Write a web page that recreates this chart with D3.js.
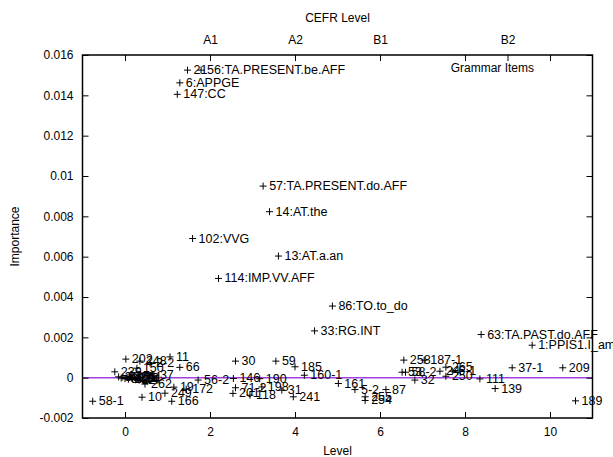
<!DOCTYPE html>
<html><head><meta charset="utf-8">
<script src="https://cdn.jsdelivr.net/npm/d3@7"></script>
<style>
body{margin:0;background:#fff}
svg{display:block}
text{font-family:"Liberation Sans",Arial,Helvetica,sans-serif;fill:#000}
</style>
</head><body>
<svg id="c" width="613" height="457"></svg>
<script>
// ---- data ----
const pointLabels = [
  "21","56:TA.PRESENT.be.AFF","6:APPGE","147:CC","57:TA.PRESENT.do.AFF","14:AT.the",
  "102:VVG","13:AT.a.an","114:IMP.VV.AFF","86:TO.to_do","33:RG.INT","63:TA.PAST.do.AFF",
  "1:PPIS1.I_am","37-1","209","111","139","189","258","187-1","53","58-2","24","265",
  "6-1","250","32","161","5-2","87","255","254","241","31","198","190","146","160-1",
  "185","30","59","71-2","201","118","56-2","172","19","249","166","10","58-1","262",
  "202","248","2-2","11","66","239","150","37",
  "3","4","7","8","9","12","15","17","20","22","25","28","34","41","44"
];
const pointLevels = [
  1.47,1.79,1.29,1.23,3.25,3.40,
  1.59,3.61,2.20,4.88,4.46,8.38,
  9.58,9.11,10.30,8.35,8.71,10.60,6.56,7.04,6.52,6.60,7.41,7.55,
  7.70,7.55,6.82,5.02,5.41,6.14,5.65,5.65,3.96,3.69,3.22,3.17,2.55,4.22,
  4.00,2.60,3.55,2.60,2.54,2.94,1.72,1.44,1.15,0.94,1.10,0.40,-0.76,0.47,
  0.02,0.35,0.59,1.06,1.29,-0.24,0.28,0.68,
  -0.15,-0.09,-0.05,0.00,0.05,0.08,0.12,0.18,0.22,0.25,0.30,0.10,0.36,0.40,0.33
];
const pointImportance = [
  0.01525,0.01525,0.01462,0.01405,0.0095,0.00823,
  0.0069,0.00603,0.00492,0.00355,0.00232,0.00214,
  0.00161,0.00049,0.00049,-0.00006,-0.00054,-0.00115,0.00087,0.00087,0.00027,0.00027,0.00032,0.00052,
  0.00032,0.00007,-0.00012,-0.00029,-0.00059,-0.00059,-0.00095,-0.00113,-0.00095,-0.00062,-0.00046,-0.00005,-0.00004,0.00012,
  0.00054,0.00082,0.00082,-0.00050,-0.00078,-0.00087,-0.00012,-0.00057,-0.00047,-0.00077,-0.00117,-0.00097,-0.00117,-0.00032,
  0.00092,0.00082,0.00072,0.00103,0.00051,0.00029,0.00047,0.00012,
  0.00004,-0.00002,0.00003,-0.00005,0.00001,-0.00008,0.00002,-0.00004,0.00001,-0.0001,-0.00003,0.00006,-0.00007,0.00002,-0.00012
];
const xTicks = [0,2,4,6,8,10];
const yTicks = [-0.002,0,0.002,0.004,0.006,0.008,0.01,0.012,0.014,0.016];
const cefrTicks = [2,4,6,9];
const cefrLabels = ["A1","A2","B1","B2"];
const legendLabel = "Grammar Items";

// ---- layout ----
const L=82.5, R=592.5, T=55, B=418;
const svg = d3.select("#c");
const x = d3.scaleLinear().domain([-1,11]).range([L,R]);
const y = d3.scaleLinear().domain([-0.002,0.016]).range([B,T]);
const fs = "12px";
const pfs = "12.5px";

// zero axis
svg.append("line").attr("x1",L).attr("x2",R).attr("y1",y(0)).attr("y2",y(0))
  .attr("stroke","#a040e0").attr("stroke-width",1.5);

function styleAxis(g){
  g.select(".domain").remove();
  g.selectAll(".tick line").attr("stroke","#000").attr("stroke-width",1);
  g.selectAll(".tick text").style("font-size",fs).attr("fill","#000");
}
const fmtY = v => v===0 ? "0" : String(+v.toFixed(3));

svg.append("g").attr("transform",`translate(0,${B})`)
  .call(d3.axisBottom(x).tickValues(xTicks).tickSizeInner(-6).tickSizeOuter(0).tickPadding(9).tickFormat(d3.format("d")))
  .call(styleAxis);
svg.append("g").attr("transform",`translate(0,${T})`)
  .call(d3.axisTop(x).tickValues(xTicks).tickSizeInner(-6).tickSizeOuter(0).tickFormat(""))
  .call(styleAxis);
svg.append("g").attr("transform",`translate(0,${T})`)
  .call(d3.axisTop(x).tickValues(cefrTicks).tickSizeInner(-6).tickSizeOuter(0).tickPadding(11)
    .tickFormat((d,i)=>cefrLabels[i]))
  .call(styleAxis);
svg.append("g").attr("transform",`translate(${L},0)`)
  .call(d3.axisLeft(y).tickValues(yTicks).tickSizeInner(-6).tickSizeOuter(0).tickPadding(9).tickFormat(fmtY))
  .call(styleAxis);
svg.append("g").attr("transform",`translate(${R},0)`)
  .call(d3.axisRight(y).tickValues(yTicks).tickSizeInner(-6).tickSizeOuter(0).tickFormat(""))
  .call(styleAxis);

// frame
svg.append("rect").attr("x",L).attr("y",T).attr("width",R-L).attr("height",B-T)
  .attr("fill","none").attr("stroke","#000").attr("stroke-width",1.5);

// titles
svg.append("text").attr("x",(L+R)/2).attr("y",22).attr("text-anchor","middle").style("font-size",fs).text("CEFR Level");
svg.append("text").attr("x",(L+R)/2).attr("y",455).attr("text-anchor","middle").style("font-size",fs).text("Level");
svg.append("text").attr("transform",`translate(19,${(T+B)/2}) rotate(-90)`).attr("text-anchor","middle").style("font-size",fs).text("Importance");
svg.append("text").attr("x",534).attr("y",72).attr("text-anchor","end").style("font-size",fs).text(legendLabel);

// points
const pts = pointLabels.map((l,i)=>({l, v:pointLevels[i], imp:pointImportance[i]}));
const g = svg.append("g");
const pg = g.selectAll("g.p").data(pts).join("g").attr("class","p")
  .attr("transform",d=>`translate(${x(d.v)},${y(d.imp)})`);
pg.append("path").attr("d","M-3.5,0H3.5M0,-3.5V3.5").attr("stroke","#000").attr("stroke-width",1).attr("fill","none");
pg.append("text").attr("x",6).attr("y",4).style("font-size",pfs).text(d=>d.l);
</script>
</body></html>
